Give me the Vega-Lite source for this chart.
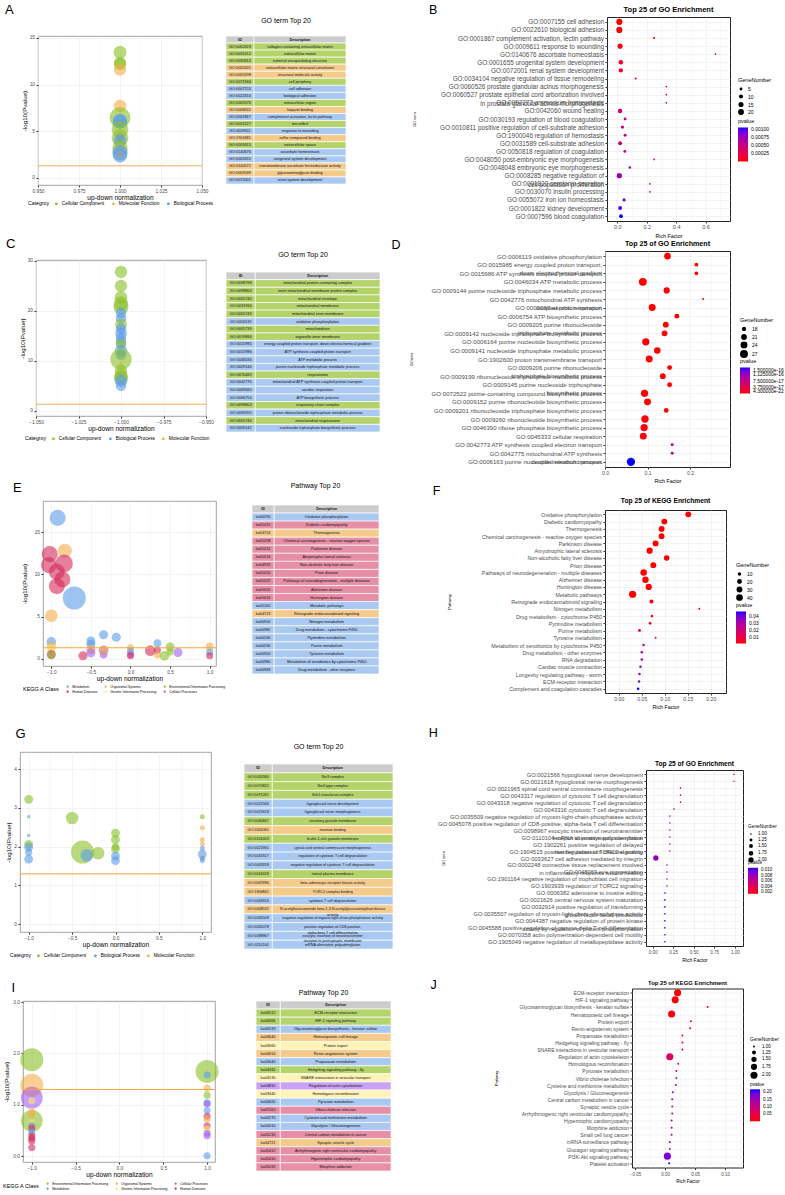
{
"$schema": "https://vega.github.io/schema/vega-lite/v6.json",
"padding": {"left": 2, "top": 2, "right": 0, "bottom": 0},
"background": "white",
"config": {
 "font": "Liberation Sans",
 "view": {"stroke": null},
 "axis": {"domain": false, "labelColor": "#4D4D4D", "tickColor": "#333333", "tickSize": 2, "labelPadding": 1.5, "gridColor": "#EBEBEB", "titleFontWeight": "normal", "titleColor": "#000000", "labelOverlap": false, "labelFlush": false, "labelLimit": 400},
 "legend": {"titleFontWeight": "normal", "titleColor": "#000000", "labelColor": "#000000", "labelOverlap": false, "labelLimit": 400},
 "title": {"fontWeight": "normal", "color": "#000000"}
},
"datasets": {
 "none": [],
 "hdr": [{"row": 0, "ID": "ID", "Description": "Description"}],
 "A_b": [
  {"x":1,"y":13.45,"cat":"Cellular Component","n":18},
  {"x":1,"y":12.3,"cat":"Cellular Component","n":16},
  {"x":1,"y":12.2,"cat":"Cellular Component","n":16},
  {"x":1,"y":11.6,"cat":"Molecular Function","n":16},
  {"x":1,"y":7.7,"cat":"Molecular Function","n":17},
  {"x":1,"y":6.45,"cat":"Cellular Component","n":45},
  {"x":1,"y":6.1,"cat":"Biological Process","n":22},
  {"x":1,"y":6.0,"cat":"Biological Process","n":22},
  {"x":1,"y":5.2,"cat":"Cellular Component","n":30},
  {"x":1,"y":4.4,"cat":"Molecular Function","n":9},
  {"x":1,"y":4.3,"cat":"Cellular Component","n":30},
  {"x":1,"y":4.2,"cat":"Biological Process","n":3},
  {"x":1,"y":4.0,"cat":"Cellular Component","n":4},
  {"x":1,"y":4.0,"cat":"Biological Process","n":17},
  {"x":1,"y":3.3,"cat":"Molecular Function","n":9},
  {"x":1,"y":3.2,"cat":"Cellular Component","n":25},
  {"x":1,"y":2.9,"cat":"Biological Process","n":2},
  {"x":1,"y":2.7,"cat":"Biological Process","n":25},
  {"x":1,"y":2.5,"cat":"Molecular Function","n":10},
  {"x":1,"y":2.45,"cat":"Molecular Function","n":2},
  {"x":1,"y":2.4,"cat":"Biological Process","n":22}
 ],
 "A_t": [
  {"row":1,"ID":"GO:0062023","Description":"collagen-containing extracellular matrix","cat":"Cellular Component"},
  {"row":2,"ID":"GO:0031012","Description":"extracellular matrix","cat":"Cellular Component"},
  {"row":3,"ID":"GO:0030312","Description":"external encapsulating structure","cat":"Cellular Component"},
  {"row":4,"ID":"GO:0005201","Description":"extracellular matrix structural constituent","cat":"Molecular Function"},
  {"row":5,"ID":"GO:0005198","Description":"structural molecule activity","cat":"Molecular Function"},
  {"row":6,"ID":"GO:0071944","Description":"cell periphery","cat":"Cellular Component"},
  {"row":7,"ID":"GO:0007155","Description":"cell adhesion","cat":"Biological Process"},
  {"row":8,"ID":"GO:0022610","Description":"biological adhesion","cat":"Biological Process"},
  {"row":9,"ID":"GO:0005576","Description":"extracellular region","cat":"Cellular Component"},
  {"row":10,"ID":"GO:0008201","Description":"heparin binding","cat":"Molecular Function"},
  {"row":11,"ID":"GO:0001867","Description":"complement activation, lectin pathway","cat":"Biological Process"},
  {"row":12,"ID":"GO:0001527","Description":"microfibril","cat":"Cellular Component"},
  {"row":13,"ID":"GO:0009611","Description":"response to wounding","cat":"Biological Process"},
  {"row":14,"ID":"GO:1901681","Description":"sulfur compound binding","cat":"Molecular Function"},
  {"row":15,"ID":"GO:0005615","Description":"extracellular space","cat":"Cellular Component"},
  {"row":16,"ID":"GO:0140676","Description":"ascorbate homeostasis","cat":"Biological Process"},
  {"row":17,"ID":"GO:0001655","Description":"urogenital system development","cat":"Biological Process"},
  {"row":18,"ID":"GO:0140571","Description":"transmembrane ascorbate ferrireductase activity","cat":"Molecular Function"},
  {"row":19,"ID":"GO:0005539","Description":"glycosaminoglycan binding","cat":"Molecular Function"},
  {"row":20,"ID":"GO:0072001","Description":"renal system development","cat":"Biological Process"}
 ],
 "C_b": [
  {"x":-1,"y":27.8,"cat":"Cellular Component","n":33},
  {"x":-1,"y":25.0,"cat":"Cellular Component","n":33},
  {"x":-1,"y":22.7,"cat":"Cellular Component","n":36},
  {"x":-1,"y":21.5,"cat":"Cellular Component","n":44},
  {"x":-1,"y":20.8,"cat":"Cellular Component","n":50},
  {"x":-1,"y":19.6,"cat":"Biological Process","n":24},
  {"x":-1,"y":18.5,"cat":"Biological Process","n":24},
  {"x":-1,"y":17.3,"cat":"Cellular Component","n":29},
  {"x":-1,"y":16.5,"cat":"Biological Process","n":24},
  {"x":-1,"y":15.5,"cat":"Biological Process","n":29},
  {"x":-1,"y":14.6,"cat":"Biological Process","n":24},
  {"x":-1,"y":13.7,"cat":"Biological Process","n":24},
  {"x":-1,"y":13.3,"cat":"Cellular Component","n":24},
  {"x":-1,"y":12.0,"cat":"Biological Process","n":33},
  {"x":-1,"y":11.2,"cat":"Biological Process","n":24},
  {"x":-1,"y":10.3,"cat":"Cellular Component","n":100},
  {"x":-1,"y":9.6,"cat":"Molecular Function","n":2},
  {"x":-1,"y":8.0,"cat":"Cellular Component","n":33},
  {"x":-1,"y":7.0,"cat":"Cellular Component","n":38},
  {"x":-1,"y":6.5,"cat":"Cellular Component","n":44},
  {"x":-1,"y":6.0,"cat":"Biological Process","n":33},
  {"x":-1,"y":5.0,"cat":"Biological Process","n":24}
 ],
 "C_t": [
  {"row":1,"ID":"GO:0098798","Description":"mitochondrial protein-containing complex","cat":"Cellular Component"},
  {"row":2,"ID":"GO:0098800","Description":"inner mitochondrial membrane protein complex","cat":"Cellular Component"},
  {"row":3,"ID":"GO:0005740","Description":"mitochondrial envelope","cat":"Cellular Component"},
  {"row":4,"ID":"GO:0031966","Description":"mitochondrial membrane","cat":"Cellular Component"},
  {"row":5,"ID":"GO:0005743","Description":"mitochondrial inner membrane","cat":"Cellular Component"},
  {"row":6,"ID":"GO:0006119","Description":"oxidative phosphorylation","cat":"Biological Process"},
  {"row":7,"ID":"GO:0005739","Description":"mitochondrion","cat":"Cellular Component"},
  {"row":8,"ID":"GO:0019866","Description":"organelle inner membrane","cat":"Cellular Component"},
  {"row":9,"ID":"GO:0015985","Description":"energy coupled proton transport, down electrochemical gradient","cat":"Biological Process"},
  {"row":10,"ID":"GO:0015986","Description":"ATP synthesis coupled proton transport","cat":"Biological Process"},
  {"row":11,"ID":"GO:0046034","Description":"ATP metabolic process","cat":"Biological Process"},
  {"row":12,"ID":"GO:0009144","Description":"purine nucleoside triphosphate metabolic process","cat":"Biological Process"},
  {"row":13,"ID":"GO:0070469","Description":"respirasome","cat":"Cellular Component"},
  {"row":14,"ID":"GO:0042776","Description":"mitochondrial ATP synthesis coupled proton transport","cat":"Biological Process"},
  {"row":15,"ID":"GO:0009060","Description":"aerobic respiration","cat":"Biological Process"},
  {"row":16,"ID":"GO:0006754","Description":"ATP biosynthetic process","cat":"Biological Process"},
  {"row":17,"ID":"GO:0098803","Description":"respiratory chain complex","cat":"Cellular Component"},
  {"row":18,"ID":"GO:0009205","Description":"purine ribonucleoside triphosphate metabolic process","cat":"Biological Process"},
  {"row":19,"ID":"GO:0005746","Description":"mitochondrial respirasome","cat":"Cellular Component"},
  {"row":20,"ID":"GO:0009142","Description":"nucleoside triphosphate biosynthetic process","cat":"Biological Process"}
 ],
 "E_b": [
  {"x":-0.92,"y":16.7,"cat":"Metabolism","n":20},
  {"x":-0.83,"y":12.8,"cat":"Organismal Systems","n":15},
  {"x":-1.02,"y":12.4,"cat":"Human Diseases","n":20},
  {"x":-1.03,"y":11.1,"cat":"Human Diseases","n":20},
  {"x":-0.84,"y":11.3,"cat":"Human Diseases","n":25},
  {"x":-0.93,"y":10.3,"cat":"Human Diseases","n":20},
  {"x":-0.86,"y":9.4,"cat":"Human Diseases","n":20},
  {"x":-0.93,"y":8.6,"cat":"Human Diseases","n":20},
  {"x":-0.71,"y":7.2,"cat":"Metabolism","n":45},
  {"x":-1.0,"y":5.1,"cat":"Organismal Systems","n":11},
  {"x":-1.0,"y":2.0,"cat":"Metabolism","n":5},
  {"x":-1.0,"y":1.5,"cat":"Organismal Systems","n":4},
  {"x":-1.0,"y":1.2,"cat":"Genetic Information Processing","n":4},
  {"x":-1.0,"y":0.5,"cat":"Human Diseases","n":4},
  {"x":-1.0,"y":0.4,"cat":"Environmental Information Processing","n":2},
  {"x":-0.5,"y":2.1,"cat":"Metabolism","n":4},
  {"x":-0.5,"y":1.7,"cat":"Metabolism","n":4},
  {"x":-0.5,"y":1.1,"cat":"Organismal Systems","n":4},
  {"x":-0.6,"y":0.35,"cat":"Human Diseases","n":4},
  {"x":-0.5,"y":0.7,"cat":"Cellular Processes","n":4},
  {"x":-0.34,"y":2.85,"cat":"Metabolism","n":4},
  {"x":-0.18,"y":2.55,"cat":"Metabolism","n":4},
  {"x":-0.34,"y":1.0,"cat":"Cellular Processes","n":5},
  {"x":-0.34,"y":0.5,"cat":"Cellular Processes","n":2},
  {"x":-0.34,"y":1.0,"cat":"Organismal Systems","n":4},
  {"x":0.0,"y":1.3,"cat":"Organismal Systems","n":1},
  {"x":0.0,"y":0.9,"cat":"Metabolism","n":1},
  {"x":0.0,"y":0.5,"cat":"Cellular Processes","n":1},
  {"x":0.0,"y":0.35,"cat":"Human Diseases","n":1},
  {"x":0.25,"y":0.95,"cat":"Human Diseases","n":7},
  {"x":0.34,"y":1.85,"cat":"Metabolism","n":2},
  {"x":0.34,"y":1.0,"cat":"Human Diseases","n":1},
  {"x":0.34,"y":0.45,"cat":"Organismal Systems","n":1},
  {"x":0.5,"y":1.4,"cat":"Environmental Information Processing","n":4},
  {"x":0.43,"y":0.35,"cat":"Environmental Information Processing","n":5},
  {"x":0.6,"y":0.75,"cat":"Cellular Processes","n":4},
  {"x":0.5,"y":0.8,"cat":"Environmental Information Processing","n":1},
  {"x":1.0,"y":1.45,"cat":"Organismal Systems","n":2},
  {"x":1.0,"y":0.8,"cat":"Metabolism","n":1},
  {"x":1.0,"y":0.35,"cat":"Human Diseases","n":1}
 ],
 "E_t": [
  {"row":1,"ID":"ko00190","Description":"Oxidative phosphorylation","cat":"Metabolism"},
  {"row":2,"ID":"ko05415","Description":"Diabetic cardiomyopathy","cat":"Human Diseases"},
  {"row":3,"ID":"ko04714","Description":"Thermogenesis","cat":"Organismal Systems"},
  {"row":4,"ID":"ko05208","Description":"Chemical carcinogenesis - reactive oxygen species","cat":"Human Diseases"},
  {"row":5,"ID":"ko05012","Description":"Parkinson disease","cat":"Human Diseases"},
  {"row":6,"ID":"ko05014","Description":"Amyotrophic lateral sclerosis","cat":"Human Diseases"},
  {"row":7,"ID":"ko04932","Description":"Non-alcoholic fatty liver disease","cat":"Human Diseases"},
  {"row":8,"ID":"ko05020","Description":"Prion disease","cat":"Human Diseases"},
  {"row":9,"ID":"ko05022","Description":"Pathways of neurodegeneration - multiple diseases","cat":"Human Diseases"},
  {"row":10,"ID":"ko05010","Description":"Alzheimer disease","cat":"Human Diseases"},
  {"row":11,"ID":"ko05016","Description":"Huntington disease","cat":"Human Diseases"},
  {"row":12,"ID":"ko01100","Description":"Metabolic pathways","cat":"Metabolism"},
  {"row":13,"ID":"ko04723","Description":"Retrograde endocannabinoid signaling","cat":"Organismal Systems"},
  {"row":14,"ID":"ko00910","Description":"Nitrogen metabolism","cat":"Metabolism"},
  {"row":15,"ID":"ko00982","Description":"Drug metabolism - cytochrome P450","cat":"Metabolism"},
  {"row":16,"ID":"ko00240","Description":"Pyrimidine metabolism","cat":"Metabolism"},
  {"row":17,"ID":"ko00230","Description":"Purine metabolism","cat":"Metabolism"},
  {"row":18,"ID":"ko00350","Description":"Tyrosine metabolism","cat":"Metabolism"},
  {"row":19,"ID":"ko00980","Description":"Metabolism of xenobiotics by cytochrome P450","cat":"Metabolism"},
  {"row":20,"ID":"ko00983","Description":"Drug metabolism - other enzymes","cat":"Metabolism"}
 ],
 "G_b": [
  {"x":-1,"y":3.22,"cat":"Cellular Component","n":6},
  {"x":-1,"y":2.77,"cat":"Biological Process","n":1},
  {"x":-1,"y":2.29,"cat":"Biological Process","n":1},
  {"x":-1,"y":2.06,"cat":"Cellular Component","n":6},
  {"x":-1,"y":1.99,"cat":"Biological Process","n":6},
  {"x":-1,"y":1.85,"cat":"Biological Process","n":4},
  {"x":-1,"y":1.68,"cat":"Biological Process","n":6},
  {"x":-0.5,"y":2.74,"cat":"Cellular Component","n":12},
  {"x":-0.38,"y":1.86,"cat":"Cellular Component","n":40},
  {"x":-0.33,"y":1.78,"cat":"Biological Process","n":12},
  {"x":-0.2,"y":1.83,"cat":"Cellular Component","n":12},
  {"x":0,"y":2.35,"cat":"Cellular Component","n":6},
  {"x":0,"y":2.18,"cat":"Cellular Component","n":6},
  {"x":0,"y":2.0,"cat":"Cellular Component","n":4},
  {"x":0,"y":1.94,"cat":"Cellular Component","n":6},
  {"x":0,"y":1.76,"cat":"Biological Process","n":6},
  {"x":0,"y":1.64,"cat":"Biological Process","n":6},
  {"x":1,"y":2.77,"cat":"Cellular Component","n":2},
  {"x":1,"y":2.49,"cat":"Molecular Function","n":2},
  {"x":1,"y":2.18,"cat":"Molecular Function","n":2},
  {"x":1,"y":2.06,"cat":"Molecular Function","n":2},
  {"x":1,"y":1.95,"cat":"Biological Process","n":2},
  {"x":1,"y":1.8,"cat":"Biological Process","n":6},
  {"x":1,"y":1.75,"cat":"Molecular Function","n":1},
  {"x":1,"y":1.7,"cat":"Biological Process","n":2},
  {"x":1,"y":1.64,"cat":"Biological Process","n":2}
 ],
 "G_t": [
  {"row":1,"ID":"GO:0016580","Description":"Sin3 complex","cat":"Cellular Component"},
  {"row":2,"ID":"GO:0070822","Description":"Sin3-type complex","cat":"Cellular Component"},
  {"row":3,"ID":"GO:0071261","Description":"Ssh1 translocon complex","cat":"Cellular Component"},
  {"row":4,"ID":"GO:0021566","Description":"hypoglossal nerve development","cat":"Biological Process"},
  {"row":5,"ID":"GO:0021618","Description":"hypoglossal nerve morphogenesis","cat":"Biological Process"},
  {"row":6,"ID":"GO:0030667","Description":"secretory granule membrane","cat":"Cellular Component"},
  {"row":7,"ID":"GO:2001065","Description":"mannan binding","cat":"Molecular Function"},
  {"row":8,"ID":"GO:0101003","Description":"ficolin-1-rich granule membrane","cat":"Cellular Component"},
  {"row":9,"ID":"GO:0021965","Description":"spinal cord ventral commissure morphogenesis","cat":"Biological Process"},
  {"row":10,"ID":"GO:0043317","Description":"regulation of cytotoxic T cell degranulation","cat":"Biological Process"},
  {"row":11,"ID":"GO:0043318","Description":"negative regulation of cytotoxic T cell degranulation","cat":"Biological Process"},
  {"row":12,"ID":"GO:0016328","Description":"lateral plasma membrane","cat":"Cellular Component"},
  {"row":13,"ID":"GO:0047696","Description":"beta-adrenergic receptor kinase activity","cat":"Molecular Function"},
  {"row":14,"ID":"GO:1904841","Description":"TORC2 complex binding","cat":"Molecular Function"},
  {"row":15,"ID":"GO:0043316","Description":"cytotoxic T cell degranulation","cat":"Biological Process"},
  {"row":16,"ID":"GO:0008532","Description":"N-acetyllactosaminide beta-1,3-N-acetylglucosaminyltransferase\nactivity","cat":"Molecular Function"},
  {"row":17,"ID":"GO:0035509","Description":"negative regulation of myosin-light-chain-phosphatase activity","cat":"Biological Process"},
  {"row":18,"ID":"GO:0045078","Description":"positive regulation of CD8-positive,\nalpha-beta T cell differentiation","cat":"Biological Process"},
  {"row":19,"ID":"GO:0098967","Description":"exocytic insertion of neurotransmitter\nreceptor to postsynaptic membrane","cat":"Biological Process"},
  {"row":20,"ID":"GO:0110104","Description":"mRNA alternative polyadenylation","cat":"Biological Process"}
 ],
 "I_b": [
  {"x":-1,"y":1.88,"cat":"Environmental Information Processing","n":45},
  {"x":-1,"y":1.38,"cat":"Organismal Systems","n":45},
  {"x":-1,"y":1.14,"cat":"Cellular Processes","n":40},
  {"x":-1,"y":0.69,"cat":"Environmental Information Processing","n":40},
  {"x":-1,"y":1.08,"cat":"Genetic Information Processing","n":1},
  {"x":-1,"y":0.86,"cat":"Organismal Systems","n":1},
  {"x":-1,"y":0.8,"cat":"Organismal Systems","n":1},
  {"x":-1,"y":0.65,"cat":"Genetic Information Processing","n":1},
  {"x":-1,"y":0.6,"cat":"Metabolism","n":1},
  {"x":-1,"y":0.55,"cat":"Human Diseases","n":1},
  {"x":-1,"y":0.47,"cat":"Metabolism","n":1},
  {"x":-1,"y":0.4,"cat":"Human Diseases","n":1},
  {"x":-1,"y":0.35,"cat":"Human Diseases","n":1},
  {"x":-1,"y":0.3,"cat":"Human Diseases","n":1},
  {"x":-1,"y":0.17,"cat":"Human Diseases","n":1},
  {"x":1,"y":1.65,"cat":"Environmental Information Processing","n":45},
  {"x":1,"y":1.58,"cat":"Metabolism","n":1},
  {"x":1,"y":1.33,"cat":"Organismal Systems","n":1},
  {"x":1,"y":1.19,"cat":"Environmental Information Processing","n":1},
  {"x":1,"y":1.04,"cat":"Metabolism","n":1},
  {"x":1,"y":1.02,"cat":"Cellular Processes","n":1},
  {"x":1,"y":0.89,"cat":"Metabolism","n":1},
  {"x":1,"y":0.78,"cat":"Human Diseases","n":1},
  {"x":1,"y":0.72,"cat":"Organismal Systems","n":1},
  {"x":1,"y":0.59,"cat":"Human Diseases","n":1},
  {"x":1,"y":0.53,"cat":"Genetic Information Processing","n":1},
  {"x":1,"y":0.45,"cat":"Cellular Processes","n":1},
  {"x":1,"y":0.4,"cat":"Cellular Processes","n":1},
  {"x":1,"y":0.01,"cat":"Metabolism","n":1}
 ],
 "I_t": [
  {"row":1,"ID":"ko04512","Description":"ECM-receptor interaction","cat":"Environmental Information Processing"},
  {"row":2,"ID":"ko04066","Description":"HIF-1 signaling pathway","cat":"Environmental Information Processing"},
  {"row":3,"ID":"ko00533","Description":"Glycosaminoglycan biosynthesis - keratan sulfate","cat":"Metabolism"},
  {"row":4,"ID":"ko04640","Description":"Hematopoietic cell lineage","cat":"Organismal Systems"},
  {"row":5,"ID":"ko03060","Description":"Protein export","cat":"Genetic Information Processing"},
  {"row":6,"ID":"ko04614","Description":"Renin-angiotensin system","cat":"Organismal Systems"},
  {"row":7,"ID":"ko00640","Description":"Propanoate metabolism","cat":"Metabolism"},
  {"row":8,"ID":"ko04341","Description":"Hedgehog signaling pathway - fly","cat":"Environmental Information Processing"},
  {"row":9,"ID":"ko04130","Description":"SNARE interactions in vesicular transport","cat":"Genetic Information Processing"},
  {"row":10,"ID":"ko04810","Description":"Regulation of actin cytoskeleton","cat":"Cellular Processes"},
  {"row":11,"ID":"ko03440","Description":"Homologous recombination","cat":"Genetic Information Processing"},
  {"row":12,"ID":"ko00620","Description":"Pyruvate metabolism","cat":"Metabolism"},
  {"row":13,"ID":"ko05110","Description":"Vibrio cholerae infection","cat":"Human Diseases"},
  {"row":14,"ID":"ko00270","Description":"Cysteine and methionine metabolism","cat":"Metabolism"},
  {"row":15,"ID":"ko00010","Description":"Glycolysis / Gluconeogenesis","cat":"Metabolism"},
  {"row":16,"ID":"ko05230","Description":"Central carbon metabolism in cancer","cat":"Human Diseases"},
  {"row":17,"ID":"ko04721","Description":"Synaptic vesicle cycle","cat":"Organismal Systems"},
  {"row":18,"ID":"ko05412","Description":"Arrhythmogenic right ventricular cardiomyopathy","cat":"Human Diseases"},
  {"row":19,"ID":"ko05410","Description":"Hypertrophic cardiomyopathy","cat":"Human Diseases"},
  {"row":20,"ID":"ko05032","Description":"Morphine addiction","cat":"Human Diseases"}
 ],
 "B": [
  {"rank":1,"term":"GO:0007155 cell adhesion","rf":0.014,"n":22,"p":3.7e-7},
  {"rank":2,"term":"GO:0022610 biological adhesion","rf":0.014,"n":22,"p":3.7e-7},
  {"rank":3,"term":"GO:0001867 complement activation, lectin pathway","rf":0.25,"n":3,"p":2.0e-5},
  {"rank":4,"term":"GO:0009611 response to wounding","rf":0.019,"n":15,"p":5.0e-5},
  {"rank":5,"term":"GO:0140676 ascorbate homeostasis","rf":0.667,"n":2,"p":7.0e-5},
  {"rank":6,"term":"GO:0001655 urogenital system development","rf":0.024,"n":12,"p":1.1e-4},
  {"rank":7,"term":"GO:0072001 renal system development","rf":0.024,"n":11,"p":1.3e-4},
  {"rank":8,"term":"GO:0034104 negative regulation of tissue remodeling","rf":0.125,"n":3,"p":2.9e-4},
  {"rank":9,"term":"GO:0060526 prostate glandular acinus morphogenesis","rf":0.333,"n":2,"p":3.1e-4},
  {"rank":10,"term":"GO:0060527 prostate epithelial cord arborization involved\nin prostate glandular acinus morphogenesis","rf":0.333,"n":2,"p":3.1e-4},
  {"rank":11,"term":"GO:0097272 ammonium homeostasis","rf":0.333,"n":2,"p":3.1e-4},
  {"rank":12,"term":"GO:0042060 wound healing","rf":0.019,"n":12,"p":3.5e-4},
  {"rank":13,"term":"GO:0030193 regulation of blood coagulation","rf":0.053,"n":5,"p":4.5e-4},
  {"rank":14,"term":"GO:0010811 positive regulation of cell-substrate adhesion","rf":0.035,"n":6,"p":4.6e-4},
  {"rank":15,"term":"GO:1900046 regulation of hemostasis","rf":0.053,"n":5,"p":4.8e-4},
  {"rank":16,"term":"GO:0031589 cell-substrate adhesion","rf":0.019,"n":9,"p":5.0e-4},
  {"rank":17,"term":"GO:0050818 regulation of coagulation","rf":0.051,"n":5,"p":5.2e-4},
  {"rank":18,"term":"GO:0048050 post-embryonic eye morphogenesis","rf":0.25,"n":2,"p":6.0e-4},
  {"rank":19,"term":"GO:0048048 embryonic eye morphogenesis","rf":0.085,"n":4,"p":6.6e-4},
  {"rank":20,"term":"GO:0008285 negative regulation of\ncell population proliferation","rf":0.014,"n":16,"p":7.2e-4},
  {"rank":21,"term":"GO:0001820 serotonin secretion","rf":0.222,"n":2,"p":7.9e-4},
  {"rank":22,"term":"GO:0030070 insulin processing","rf":0.222,"n":2,"p":7.9e-4},
  {"rank":23,"term":"GO:0055072 iron ion homeostasis","rf":0.046,"n":6,"p":9.2e-4},
  {"rank":24,"term":"GO:0001822 kidney development","rf":0.019,"n":9,"p":9.9e-4},
  {"rank":25,"term":"GO:0007596 blood coagulation","rf":0.025,"n":8,"p":1.06e-3}
 ],
 "D": [
  {"rank":1,"term":"GO:0006119 oxidative phosphorylation","rf":0.147,"n":23,"p":4.3e-22},
  {"rank":2,"term":"GO:0015985 energy coupled proton transport,\ndown electrochemical gradient","rf":0.215,"n":17,"p":1e-21},
  {"rank":3,"term":"GO:0015986 ATP synthesis coupled proton transport","rf":0.215,"n":17,"p":1e-21},
  {"rank":4,"term":"GO:0046034 ATP metabolic process","rf":0.089,"n":27,"p":2e-21},
  {"rank":5,"term":"GO:0009144 purine nucleoside triphosphate metabolic process","rf":0.145,"n":22,"p":5e-21},
  {"rank":6,"term":"GO:0042776 mitochondrial ATP synthesis\ncoupled proton transport","rf":0.231,"n":15,"p":1e-20},
  {"rank":7,"term":"GO:0009060 aerobic respiration","rf":0.111,"n":24,"p":2e-20},
  {"rank":8,"term":"GO:0006754 ATP biosynthetic process","rf":0.169,"n":19,"p":3e-20},
  {"rank":9,"term":"GO:0009205 purine ribonucleoside\ntriphosphate metabolic process","rf":0.143,"n":21,"p":5e-20},
  {"rank":10,"term":"GO:0009142 nucleoside triphosphate biosynthetic process","rf":0.14,"n":21,"p":6e-20},
  {"rank":11,"term":"GO:0006164 purine nucleotide biosynthetic process","rf":0.096,"n":25,"p":8e-20},
  {"rank":12,"term":"GO:0009141 nucleoside triphosphate metabolic process","rf":0.123,"n":23,"p":1e-19},
  {"rank":13,"term":"GO:1902600 proton transmembrane transport","rf":0.104,"n":24,"p":2e-19},
  {"rank":14,"term":"GO:0009206 purine ribonucleoside\ntriphosphate biosynthetic process","rf":0.152,"n":19,"p":3e-19},
  {"rank":15,"term":"GO:0009199 ribonucleoside triphosphate metabolic process","rf":0.136,"n":21,"p":4e-19},
  {"rank":16,"term":"GO:0009145 purine nucleoside triphosphate\nbiosynthetic process","rf":0.152,"n":19,"p":5e-19},
  {"rank":17,"term":"GO:0072522 purine-containing compound biosynthetic process","rf":0.093,"n":25,"p":8e-19},
  {"rank":18,"term":"GO:0009152 purine ribonucleotide biosynthetic process","rf":0.1,"n":24,"p":1e-18},
  {"rank":19,"term":"GO:0009201 ribonucleoside triphosphate biosynthetic process","rf":0.144,"n":19,"p":1.5e-18},
  {"rank":20,"term":"GO:0009260 ribonucleotide biosynthetic process","rf":0.094,"n":25,"p":2e-18},
  {"rank":21,"term":"GO:0046390 ribose phosphate biosynthetic process","rf":0.092,"n":25,"p":3e-18},
  {"rank":22,"term":"GO:0045333 cellular respiration","rf":0.09,"n":24,"p":5e-18},
  {"rank":23,"term":"GO:0042773 ATP synthesis coupled electron transport","rf":0.158,"n":16,"p":7e-17},
  {"rank":24,"term":"GO:0042775 mitochondrial ATP synthesis\ncoupled electron transport","rf":0.158,"n":16,"p":7e-17},
  {"rank":25,"term":"GO:0006163 purine nucleotide metabolic process","rf":0.061,"n":28,"p":1.5e-16}
 ],
 "F": [
  {"rank":1,"term":"Oxidative phosphorylation","rf":0.151,"n":30,"p":1e-17},
  {"rank":2,"term":"Diabetic cardiomyopathy","rf":0.099,"n":30,"p":1e-15},
  {"rank":3,"term":"Thermogenesis","rf":0.093,"n":30,"p":5e-15},
  {"rank":4,"term":"Chemical carcinogenesis - reactive oxygen species","rf":0.093,"n":30,"p":6e-15},
  {"rank":5,"term":"Parkinson disease","rf":0.08,"n":31,"p":5e-14},
  {"rank":6,"term":"Amyotrophic lateral sclerosis","rf":0.067,"n":34,"p":1e-13},
  {"rank":7,"term":"Non-alcoholic fatty liver disease","rf":0.104,"n":27,"p":2e-13},
  {"rank":8,"term":"Prion disease","rf":0.075,"n":30,"p":4e-13},
  {"rank":9,"term":"Pathways of neurodegeneration - multiple diseases","rf":0.054,"n":37,"p":1e-12},
  {"rank":10,"term":"Alzheimer disease","rf":0.058,"n":36,"p":1e-12},
  {"rank":11,"term":"Huntington disease","rf":0.065,"n":34,"p":3e-12},
  {"rank":12,"term":"Metabolic pathways","rf":0.03,"n":46,"p":2e-9},
  {"rank":13,"term":"Retrograde endocannabinoid signaling","rf":0.071,"n":14,"p":1e-5},
  {"rank":14,"term":"Nitrogen metabolism","rf":0.175,"n":3,"p":0.0012},
  {"rank":15,"term":"Drug metabolism - cytochrome P450","rf":0.072,"n":6,"p":0.0025},
  {"rank":16,"term":"Pyrimidine metabolism","rf":0.068,"n":6,"p":0.004},
  {"rank":17,"term":"Purine metabolism","rf":0.045,"n":7,"p":0.008},
  {"rank":18,"term":"Tyrosine metabolism","rf":0.08,"n":3,"p":0.011},
  {"rank":19,"term":"Metabolism of xenobiotics by cytochrome P450","rf":0.054,"n":5,"p":0.018},
  {"rank":20,"term":"Drug metabolism - other enzymes","rf":0.05,"n":5,"p":0.024},
  {"rank":21,"term":"RNA degradation","rf":0.05,"n":5,"p":0.026},
  {"rank":22,"term":"Cardiac muscle contraction","rf":0.047,"n":5,"p":0.03},
  {"rank":23,"term":"Longevity regulating pathway - worm","rf":0.045,"n":5,"p":0.033},
  {"rank":24,"term":"ECM-receptor interaction","rf":0.044,"n":5,"p":0.037},
  {"rank":25,"term":"Complement and coagulation cascades","rf":0.042,"n":5,"p":0.046}
 ],
 "H": [
  {"rank":1,"term":"GO:0021566 hypoglossal nerve development","rf":0.99,"n":1,"p":0.0015},
  {"rank":2,"term":"GO:0021618 hypoglossal nerve morphogenesis","rf":0.99,"n":1,"p":0.0015},
  {"rank":3,"term":"GO:0021965 spinal cord ventral commissure morphogenesis","rf":0.34,"n":1,"p":0.0045},
  {"rank":4,"term":"GO:0043317 regulation of cytotoxic T cell degranulation","rf":0.34,"n":1,"p":0.0045},
  {"rank":5,"term":"GO:0043318 negative regulation of cytotoxic T cell degranulation","rf":0.34,"n":1,"p":0.0045},
  {"rank":6,"term":"GO:0043316 cytotoxic T cell degranulation","rf":0.26,"n":1,"p":0.0058},
  {"rank":7,"term":"GO:0035509 negative regulation of myosin-light-chain-phosphatase activity","rf":0.21,"n":1,"p":0.0072},
  {"rank":8,"term":"GO:0045078 positive regulation of CD8-positive, alpha-beta T cell differentiation","rf":0.21,"n":1,"p":0.0072},
  {"rank":9,"term":"GO:0098967 exocytic insertion of neurotransmitter\nreceptor to postsynaptic membrane","rf":0.21,"n":1,"p":0.0072},
  {"rank":10,"term":"GO:0110104 mRNA alternative polyadenylation","rf":0.21,"n":1,"p":0.0072},
  {"rank":11,"term":"GO:1902261 positive regulation of delayed\nrectifier potassium channel activity","rf":0.21,"n":1,"p":0.0072},
  {"rank":12,"term":"GO:1904515 positive regulation of TORC2 signaling","rf":0.21,"n":1,"p":0.0072},
  {"rank":13,"term":"GO:0033627 cell adhesion mediated by integrin","rf":0.04,"n":2,"p":0.0085},
  {"rank":14,"term":"GO:0002248 connective tissue replacement involved\nin inflammatory response wound healing","rf":0.175,"n":1,"p":0.0088},
  {"rank":15,"term":"GO:0048069 eye pigmentation","rf":0.175,"n":1,"p":0.0088},
  {"rank":16,"term":"GO:1901164 negative regulation of trophoblast cell migration","rf":0.175,"n":1,"p":0.0088},
  {"rank":17,"term":"GO:1903939 regulation of TORC2 signaling","rf":0.175,"n":1,"p":0.0088},
  {"rank":18,"term":"GO:0006382 adenosine to inosine editing","rf":0.15,"n":1,"p":0.0108},
  {"rank":19,"term":"GO:0021626 central nervous system maturation","rf":0.15,"n":1,"p":0.0108},
  {"rank":20,"term":"GO:0032914 positive regulation of transforming\ngrowth factor beta1 production","rf":0.15,"n":1,"p":0.0108},
  {"rank":21,"term":"GO:0035507 regulation of myosin-light-chain-phosphatase activity","rf":0.15,"n":1,"p":0.0108},
  {"rank":22,"term":"GO:0044387 negative regulation of protein kinase\nactivity by regulation of protein phosphorylation","rf":0.15,"n":1,"p":0.0108},
  {"rank":23,"term":"GO:0045588 positive regulation of gamma-delta T cell differentiation","rf":0.15,"n":1,"p":0.0108},
  {"rank":24,"term":"GO:0070358 actin polymerization-dependent cell motility","rf":0.15,"n":1,"p":0.0108},
  {"rank":25,"term":"GO:1905049 negative regulation of metallopeptidase activity","rf":0.15,"n":1,"p":0.0108}
 ],
 "J": [
  {"rank":1,"term":"ECM-receptor interaction","rf":0.021,"n":2,"p":0.004},
  {"rank":2,"term":"HIF-1 signaling pathway","rf":0.017,"n":2,"p":0.006},
  {"rank":3,"term":"Glycosaminoglycan biosynthesis - keratan sulfate","rf":0.071,"n":1,"p":0.015},
  {"rank":4,"term":"Hematopoietic cell lineage","rf":0.011,"n":2,"p":0.012},
  {"rank":5,"term":"Protein export","rf":0.043,"n":1,"p":0.045},
  {"rank":6,"term":"Renin-angiotensin system","rf":0.042,"n":1,"p":0.046},
  {"rank":7,"term":"Propanoate metabolism","rf":0.029,"n":1,"p":0.065},
  {"rank":8,"term":"Hedgehog signaling pathway - fly","rf":0.029,"n":1,"p":0.065},
  {"rank":9,"term":"SNARE interactions in vesicular transport","rf":0.029,"n":1,"p":0.065},
  {"rank":10,"term":"Regulation of actin cytoskeleton","rf":0.008,"n":2,"p":0.07},
  {"rank":11,"term":"Homologous recombination","rf":0.022,"n":1,"p":0.085},
  {"rank":12,"term":"Pyruvate metabolism","rf":0.019,"n":1,"p":0.095},
  {"rank":13,"term":"Vibrio cholerae infection","rf":0.019,"n":1,"p":0.095},
  {"rank":14,"term":"Cysteine and methionine metabolism","rf":0.018,"n":1,"p":0.1},
  {"rank":15,"term":"Glycolysis / Gluconeogenesis","rf":0.013,"n":1,"p":0.12},
  {"rank":16,"term":"Central carbon metabolism in cancer","rf":0.012,"n":1,"p":0.125},
  {"rank":17,"term":"Synaptic vesicle cycle","rf":0.012,"n":1,"p":0.125},
  {"rank":18,"term":"Arrhythmogenic right ventricular cardiomyopathy","rf":0.012,"n":1,"p":0.125},
  {"rank":19,"term":"Hypertrophic cardiomyopathy","rf":0.011,"n":1,"p":0.135},
  {"rank":20,"term":"Morphine addiction","rf":0.011,"n":1,"p":0.135},
  {"rank":21,"term":"Small cell lung cancer","rf":0.011,"n":1,"p":0.135},
  {"rank":22,"term":"mRNA surveillance pathway","rf":0.008,"n":1,"p":0.155},
  {"rank":23,"term":"Glucagon signaling pathway","rf":0.008,"n":1,"p":0.155},
  {"rank":24,"term":"PI3K-Akt signaling pathway","rf":0.004,"n":2,"p":0.18},
  {"rank":25,"term":"Platelet activation","rf":0.007,"n":1,"p":0.22}
 ]
},
"hconcat": [
 {
  "vconcat": [
   {"width": 1, "height": 1, "data": {"name": "none"}, "mark": {"type": "point", "opacity": 0}, "encoding": {}},
   {
    "vconcat": [
     {
      "vconcat": [
       {
        "vconcat": [
         {
          "title": {"text": "A", "anchor": "start", "fontSize": 13, "dx": -13, "offset": 0},
          "bounds": "flush", "spacing": 0,
          "hconcat": [
           {"width": 20, "height": 1, "data": {"name": "none"}, "mark": {"type": "point", "opacity": 0}, "encoding": {}},
           {
            "width": 164, "height": 149,
            "view": {"stroke": "#8A8A8A", "strokeWidth": 0.8},
            "layer": [
             {"data": {"name": "A_b"}, "mark": {"type": "circle", "opacity": 0.62},
              "encoding": {
               "x": {"field": "x", "type": "quantitative", "scale": {"domain": [0.95, 1.05], "nice": false, "zero": false},
                     "axis": {"title": "up-down normalization", "values": [0.95,0.9625,0.975,0.9875,1,1.0125,1.025,1.0375,1.05], "format": ".3f", "labelExpr": "indexof([0.95,0.975,1,1.025,1.05], datum.value) >= 0 ? datum.label : ''", "tickOpacity": {"condition": {"test": "indexof([0.95,0.975,1,1.025,1.05], datum.value) < 0", "value": 0}, "value": 1}, "gridWidth": {"condition": {"test": "indexof([0.95,0.975,1,1.025,1.05], datum.value) < 0", "value": 0.3}, "value": 0.6}, "labelFontSize": 4.8, "titleFontSize": 6.6, "titlePadding": 1}},
               "y": {"field": "y", "type": "quantitative", "scale": {"domain": [-0.76, 15.2], "nice": false, "zero": false},
                     "axis": {"title": "-log10(Pvalue)", "values": [0,2.5,5,7.5,10,12.5,15], "labelExpr": "indexof([0,5,10,15], datum.value) >= 0 ? datum.label : ''", "tickOpacity": {"condition": {"test": "indexof([0,5,10,15], datum.value) < 0", "value": 0}, "value": 1}, "gridWidth": {"condition": {"test": "indexof([0,5,10,15], datum.value) < 0", "value": 0.3}, "value": 0.6}, "labelFontSize": 4.8, "titleFontSize": 6.2, "titlePadding": 2}},
               "color": {"field": "cat", "type": "nominal", "scale": {"domain": ["Cellular Component", "Molecular Function", "Biological Process"], "range": ["#8BC02A", "#F3AE4A", "#5A9BEA"]},
                         "legend": {"title": "Categroy", "orient": "none", "legendX": -10, "legendY": 165, "direction": "horizontal", "titleOrient": "left", "symbolType": "circle", "symbolSize": 8, "symbolOpacity": 1, "symbolStrokeWidth": 0, "labelFontSize": 4.8, "titleFontSize": 5.2, "columnPadding": 6, "titlePadding": 4, "labelOffset": 3}},
               "size": {"field": "n", "type": "quantitative", "scale": {"domain": [2, 45], "range": [14, 430], "zero": false}, "legend": null}
              }},
             {"data": {"values": [{"cutoff": 1.3}]}, "mark": {"type": "rule", "color": "#F5A742", "strokeWidth": 0.9}, "encoding": {"y": {"field": "cutoff", "type": "quantitative"}}}
            ]
           },
           {"width": 24, "height": 1, "data": {"name": "none"}, "mark": {"type": "point", "opacity": 0}, "encoding": {}},
           {
            "width": 120, "height": 148,
            "title": {"text": "GO term Top 20", "fontSize": 7, "offset": 12, "anchor": "middle"},
            "encoding": {"y": {"field": "row", "type": "ordinal", "axis": null, "scale": {"domain": [0,1,2,3,4,5,6,7,8,9,10,11,12,13,14,15,16,17,18,19,20], "paddingInner": 0, "paddingOuter": 0}}},
            "layer": [
             {"data": {"name": "hdr"}, "mark": {"type": "rect", "fill": "#CCCCCC", "stroke": "white", "strokeWidth": 0.7}, "encoding": {"x": {"datum": 0, "type": "quantitative", "scale": {"domain": [0, 1], "nice": false}, "axis": null}, "x2": {"datum": 0.233}}},
             {"data": {"name": "hdr"}, "mark": {"type": "rect", "fill": "#CCCCCC", "stroke": "white", "strokeWidth": 0.7}, "encoding": {"x": {"datum": 0.233, "type": "quantitative", "axis": null}, "x2": {"datum": 1}}},
             {"data": {"name": "A_t"}, "mark": {"type": "rect", "stroke": "white", "strokeWidth": 0.7}, "encoding": {"x": {"datum": 0, "type": "quantitative", "axis": null}, "x2": {"datum": 0.233}, "fill": {"field": "cat", "type": "nominal", "scale": {"domain": ["Cellular Component", "Molecular Function", "Biological Process"], "range": ["#B5D36B", "#F5CB8C", "#A9C8F2"]}, "legend": null}}},
             {"data": {"name": "A_t"}, "mark": {"type": "rect", "stroke": "white", "strokeWidth": 0.7}, "encoding": {"x": {"datum": 0.233, "type": "quantitative", "axis": null}, "x2": {"datum": 1}, "fill": {"field": "cat", "type": "nominal", "legend": null}}},
             {"data": {"name": "hdr"}, "mark": {"type": "text", "fontSize": 3.8, "fontWeight": "bold", "color": "#111111"}, "encoding": {"x": {"datum": 0.1165, "type": "quantitative", "axis": null}, "text": {"field": "ID"}}},
             {"data": {"name": "hdr"}, "mark": {"type": "text", "fontSize": 3.8, "fontWeight": "bold", "color": "#111111"}, "encoding": {"x": {"datum": 0.6165, "type": "quantitative", "axis": null}, "text": {"field": "Description"}}},
             {"data": {"name": "A_t"}, "mark": {"type": "text", "fontSize": 3.8, "color": "#111111"}, "encoding": {"x": {"datum": 0.1165, "type": "quantitative", "axis": null}, "text": {"field": "ID"}}},
             {"data": {"name": "A_t"}, "mark": {"type": "text", "fontSize": 3.8, "color": "#111111", "lineBreak": "\n"}, "encoding": {"x": {"datum": 0.6165, "type": "quantitative", "axis": null}, "text": {"field": "Description"}}}
            ]
           }
          ],
          "resolve": {"scale": {"color": "independent", "fill": "independent", "size": "independent"}}
         },
         {
          "title": {"text": "C", "anchor": "start", "fontSize": 13, "dx": -12, "offset": 0},
          "bounds": "flush", "spacing": 0,
          "hconcat": [
           {"width": 18, "height": 1, "data": {"name": "none"}, "mark": {"type": "point", "opacity": 0}, "encoding": {}},
           {
            "width": 170, "height": 156,
            "view": {"stroke": "#8A8A8A", "strokeWidth": 0.8},
            "layer": [
             {"data": {"name": "C_b"}, "mark": {"type": "circle", "opacity": 0.62},
              "encoding": {
               "x": {"field": "x", "type": "quantitative", "scale": {"domain": [-1.05, -0.95], "nice": false, "zero": false},
                     "axis": {"title": "up-down normalization", "values": [-1.05,-1.0375,-1.025,-1.0125,-1,-0.9875,-0.975,-0.9625,-0.95], "format": ".3f", "labelExpr": "indexof([-1.05,-1.025,-1,-0.975,-0.95], datum.value) >= 0 ? datum.label : ''", "tickOpacity": {"condition": {"test": "indexof([-1.05,-1.025,-1,-0.975,-0.95], datum.value) < 0", "value": 0}, "value": 1}, "gridWidth": {"condition": {"test": "indexof([-1.05,-1.025,-1,-0.975,-0.95], datum.value) < 0", "value": 0.3}, "value": 0.6}, "labelFontSize": 4.8, "titleFontSize": 6.6, "titlePadding": 1}},
               "y": {"field": "y", "type": "quantitative", "scale": {"domain": [-1.06, 30.2], "nice": false, "zero": false},
                     "axis": {"title": "-log10(Pvalue)", "values": [0,5,10,15,20,25,30], "labelExpr": "indexof([0,10,20,30], datum.value) >= 0 ? datum.label : ''", "tickOpacity": {"condition": {"test": "indexof([0,10,20,30], datum.value) < 0", "value": 0}, "value": 1}, "gridWidth": {"condition": {"test": "indexof([0,10,20,30], datum.value) < 0", "value": 0.3}, "value": 0.6}, "labelFontSize": 4.8, "titleFontSize": 6.2, "titlePadding": 2}},
               "color": {"field": "cat", "type": "nominal", "scale": {"domain": ["Cellular Component", "Biological Process", "Molecular Function"], "range": ["#8BC02A", "#5A9BEA", "#F3AE4A"]},
                         "legend": {"title": "Categroy", "orient": "none", "legendX": -11, "legendY": 176, "direction": "horizontal", "titleOrient": "left", "symbolType": "circle", "symbolSize": 8, "symbolOpacity": 1, "symbolStrokeWidth": 0, "labelFontSize": 4.8, "titleFontSize": 5.2, "columnPadding": 6, "titlePadding": 4, "labelOffset": 3}},
               "size": {"field": "n", "type": "quantitative", "scale": {"domain": [2, 100], "range": [13, 452], "zero": false}, "legend": null}
              }},
             {"data": {"values": [{"cutoff": 1.3}]}, "mark": {"type": "rule", "color": "#F5A742", "strokeWidth": 0.9}, "encoding": {"y": {"field": "cutoff", "type": "quantitative"}}}
            ]
           },
           {"width": 20, "height": 1, "data": {"name": "none"}, "mark": {"type": "point", "opacity": 0}, "encoding": {}},
           {
            "width": 154, "height": 172,
            "title": {"text": "GO term Top 20", "fontSize": 7, "offset": 2, "anchor": "middle"},
            "encoding": {"y": {"field": "row", "type": "ordinal", "axis": null, "scale": {"domain": [0,1,2,3,4,5,6,7,8,9,10,11,12,13,14,15,16,17,18,19,20], "paddingInner": 0, "paddingOuter": 0.79, "align": 1}}},
            "layer": [
             {"data": {"name": "hdr"}, "mark": {"type": "rect", "fill": "#CCCCCC", "stroke": "white", "strokeWidth": 0.7}, "encoding": {"x": {"datum": 0, "type": "quantitative", "scale": {"domain": [0, 1], "nice": false}, "axis": null}, "x2": {"datum": 0.19}}},
             {"data": {"name": "hdr"}, "mark": {"type": "rect", "fill": "#CCCCCC", "stroke": "white", "strokeWidth": 0.7}, "encoding": {"x": {"datum": 0.19, "type": "quantitative", "axis": null}, "x2": {"datum": 1}}},
             {"data": {"name": "C_t"}, "mark": {"type": "rect", "stroke": "white", "strokeWidth": 0.7}, "encoding": {"x": {"datum": 0, "type": "quantitative", "axis": null}, "x2": {"datum": 0.19}, "fill": {"field": "cat", "type": "nominal", "scale": {"domain": ["Cellular Component", "Molecular Function", "Biological Process"], "range": ["#B5D36B", "#F5CB8C", "#A9C8F2"]}, "legend": null}}},
             {"data": {"name": "C_t"}, "mark": {"type": "rect", "stroke": "white", "strokeWidth": 0.7}, "encoding": {"x": {"datum": 0.19, "type": "quantitative", "axis": null}, "x2": {"datum": 1}, "fill": {"field": "cat", "type": "nominal", "legend": null}}},
             {"data": {"name": "hdr"}, "mark": {"type": "text", "fontSize": 3.8, "fontWeight": "bold", "color": "#111111"}, "encoding": {"x": {"datum": 0.095, "type": "quantitative", "axis": null}, "text": {"field": "ID"}}},
             {"data": {"name": "hdr"}, "mark": {"type": "text", "fontSize": 3.8, "fontWeight": "bold", "color": "#111111"}, "encoding": {"x": {"datum": 0.595, "type": "quantitative", "axis": null}, "text": {"field": "Description"}}},
             {"data": {"name": "C_t"}, "mark": {"type": "text", "fontSize": 3.8, "color": "#111111"}, "encoding": {"x": {"datum": 0.095, "type": "quantitative", "axis": null}, "text": {"field": "ID"}}},
             {"data": {"name": "C_t"}, "mark": {"type": "text", "fontSize": 3.8, "color": "#111111", "lineBreak": "\n"}, "encoding": {"x": {"datum": 0.595, "type": "quantitative", "axis": null}, "text": {"field": "Description"}}}
            ]
           }
          ],
          "resolve": {"scale": {"color": "independent", "fill": "independent", "size": "independent"}}
         }
        ],
        "spacing": 30,
        "resolve": {"scale": {"color": "independent", "fill": "independent", "size": "independent"}}
       },
       {
        "title": {"text": "E", "anchor": "start", "fontSize": 13, "dx": -5, "dy": 13, "offset": 0},
        "bounds": "flush", "spacing": 0,
        "hconcat": [
         {"width": 25, "height": 1, "data": {"name": "none"}, "mark": {"type": "point", "opacity": 0}, "encoding": {}},
         {
          "width": 173, "height": 165,
          "view": {"stroke": "#8A8A8A", "strokeWidth": 0.8},
          "layer": [
           {"data": {"name": "E_b"}, "mark": {"type": "circle", "opacity": 0.6},
            "encoding": {
             "x": {"field": "x", "type": "quantitative", "scale": {"domain": [-1.105, 1.08], "nice": false, "zero": false},
                   "axis": {"title": "up-down normalization", "values": [-1,-0.75,-0.5,-0.25,0,0.25,0.5,0.75,1], "format": ".1f", "labelExpr": "indexof([-1,-0.5,0,0.5,1], datum.value) >= 0 ? datum.label : ''", "tickOpacity": {"condition": {"test": "indexof([-1,-0.5,0,0.5,1], datum.value) < 0", "value": 0}, "value": 1}, "gridWidth": {"condition": {"test": "indexof([-1,-0.5,0,0.5,1], datum.value) < 0", "value": 0.3}, "value": 0.6}, "labelFontSize": 4.8, "titleFontSize": 6.6, "titlePadding": 1}},
             "y": {"field": "y", "type": "quantitative", "scale": {"domain": [-0.86, 18.7], "nice": false, "zero": false},
                   "axis": {"title": "-log10(Pvalue)", "values": [0,2.5,5,7.5,10,12.5,15,17.5], "labelExpr": "indexof([0,5,10,15], datum.value) >= 0 ? datum.label : ''", "tickOpacity": {"condition": {"test": "indexof([0,5,10,15], datum.value) < 0", "value": 0}, "value": 1}, "gridWidth": {"condition": {"test": "indexof([0,5,10,15], datum.value) < 0", "value": 0.3}, "value": 0.6}, "labelFontSize": 4.8, "titleFontSize": 6.2, "titlePadding": 7}},
             "color": {"field": "cat", "type": "nominal", "scale": {"domain": ["Metabolism", "Organismal Systems", "Environmental Information Processing", "Human Diseases", "Genetic Information Processing", "Cellular Processes"], "range": ["#5A9BEA", "#F3AE4A", "#8BC02A", "#D42A5A", "#F5E86A", "#A45CF0"]},
                       "legend": {"title": "KEGG A Class", "orient": "none", "legendX": -20, "legendY": 184, "direction": "horizontal", "columns": 3, "titleOrient": "left", "symbolType": "circle", "symbolSize": 5, "symbolOpacity": 1, "symbolStrokeWidth": 0, "labelFontSize": 3.3, "titleFontSize": 5.5, "columnPadding": 6, "rowPadding": 1, "titlePadding": 6, "labelOffset": 3}},
             "size": {"field": "n", "type": "quantitative", "scale": {"domain": [1, 45], "range": [50, 530], "zero": false}, "legend": null}
            }},
           {"data": {"values": [{"cutoff": 1.3}]}, "mark": {"type": "rule", "color": "#F5A742", "strokeWidth": 1}, "encoding": {"y": {"field": "cutoff", "type": "quantitative"}}}
          ]
         },
         {"width": 36, "height": 1, "data": {"name": "none"}, "mark": {"type": "point", "opacity": 0}, "encoding": {}},
         {
          "width": 127, "height": 173,
          "title": {"text": "Pathway Top 20", "fontSize": 7, "offset": 12, "anchor": "middle"},
          "encoding": {"y": {"field": "row", "type": "ordinal", "axis": null, "scale": {"domain": [0,1,2,3,4,5,6,7,8,9,10,11,12,13,14,15,16,17,18,19,20], "paddingInner": 0, "paddingOuter": 0.25, "align": 1}}},
          "layer": [
           {"data": {"name": "hdr"}, "mark": {"type": "rect", "fill": "#CCCCCC", "stroke": "white", "strokeWidth": 0.7}, "encoding": {"x": {"datum": 0, "type": "quantitative", "scale": {"domain": [0, 1], "nice": false}, "axis": null}, "x2": {"datum": 0.175}}},
           {"data": {"name": "hdr"}, "mark": {"type": "rect", "fill": "#CCCCCC", "stroke": "white", "strokeWidth": 0.7}, "encoding": {"x": {"datum": 0.175, "type": "quantitative", "axis": null}, "x2": {"datum": 1}}},
           {"data": {"name": "E_t"}, "mark": {"type": "rect", "stroke": "white", "strokeWidth": 0.7}, "encoding": {"x": {"datum": 0, "type": "quantitative", "axis": null}, "x2": {"datum": 0.175}, "fill": {"field": "cat", "type": "nominal", "scale": {"domain": ["Metabolism", "Human Diseases", "Organismal Systems", "Environmental Information Processing", "Genetic Information Processing", "Cellular Processes"], "range": ["#A9C8F2", "#E68FA6", "#F5CB8C", "#B5D36B", "#FFF4B5", "#C9A2F5"]}, "legend": null}}},
           {"data": {"name": "E_t"}, "mark": {"type": "rect", "stroke": "white", "strokeWidth": 0.7}, "encoding": {"x": {"datum": 0.175, "type": "quantitative", "axis": null}, "x2": {"datum": 1}, "fill": {"field": "cat", "type": "nominal", "legend": null}}},
           {"data": {"name": "hdr"}, "mark": {"type": "text", "fontSize": 3.8, "fontWeight": "bold", "color": "#111111"}, "encoding": {"x": {"datum": 0.0875, "type": "quantitative", "axis": null}, "text": {"field": "ID"}}},
           {"data": {"name": "hdr"}, "mark": {"type": "text", "fontSize": 3.8, "fontWeight": "bold", "color": "#111111"}, "encoding": {"x": {"datum": 0.5875, "type": "quantitative", "axis": null}, "text": {"field": "Description"}}},
           {"data": {"name": "E_t"}, "mark": {"type": "text", "fontSize": 3.8, "color": "#111111"}, "encoding": {"x": {"datum": 0.0875, "type": "quantitative", "axis": null}, "text": {"field": "ID"}}},
           {"data": {"name": "E_t"}, "mark": {"type": "text", "fontSize": 3.8, "color": "#111111", "lineBreak": "\n"}, "encoding": {"x": {"datum": 0.5875, "type": "quantitative", "axis": null}, "text": {"field": "Description"}}}
          ]
         }
        ],
        "resolve": {"scale": {"color": "independent", "fill": "independent", "size": "independent"}}
       }
      ],
      "spacing": 39,
      "resolve": {"scale": {"color": "independent", "fill": "independent", "size": "independent"}}
     },
     {
      "vconcat": [
       {
        "title": {"text": "G", "anchor": "start", "fontSize": 13, "dx": 10, "offset": 2},
        "bounds": "flush", "spacing": 0,
        "hconcat": [
         {"width": 2, "height": 1, "data": {"name": "none"}, "mark": {"type": "point", "opacity": 0}, "encoding": {}},
         {
          "width": 191, "height": 180,
          "view": {"stroke": "#8A8A8A", "strokeWidth": 0.8},
          "layer": [
           {"data": {"name": "G_b"}, "mark": {"type": "circle", "opacity": 0.6},
            "encoding": {
             "x": {"field": "x", "type": "quantitative", "scale": {"domain": [-1.1, 1.1], "nice": false, "zero": false},
                   "axis": {"title": "up-down normalization", "values": [-1,-0.75,-0.5,-0.25,0,0.25,0.5,0.75,1], "format": ".1f", "labelExpr": "indexof([-1,-0.5,0,0.5,1], datum.value) >= 0 ? datum.label : ''", "tickOpacity": {"condition": {"test": "indexof([-1,-0.5,0,0.5,1], datum.value) < 0", "value": 0}, "value": 1}, "gridWidth": {"condition": {"test": "indexof([-1,-0.5,0,0.5,1], datum.value) < 0", "value": 0.3}, "value": 0.6}, "labelFontSize": 4.8, "titleFontSize": 6.6, "titlePadding": 1}},
             "y": {"field": "y", "type": "quantitative", "scale": {"domain": [-0.2, 4.44], "nice": false, "zero": false},
                   "axis": {"title": "-log10(Pvalue)", "values": [0,0.5,1,1.5,2,2.5,3,3.5,4], "labelExpr": "indexof([0,1,2,3,4], datum.value) >= 0 ? datum.label : ''", "tickOpacity": {"condition": {"test": "indexof([0,1,2,3,4], datum.value) < 0", "value": 0}, "value": 1}, "gridWidth": {"condition": {"test": "indexof([0,1,2,3,4], datum.value) < 0", "value": 0.3}, "value": 0.6}, "labelFontSize": 4.8, "titleFontSize": 6.2, "titlePadding": 2}},
             "color": {"field": "cat", "type": "nominal", "scale": {"domain": ["Cellular Component", "Biological Process", "Molecular Function"], "range": ["#8BC02A", "#5A9BEA", "#F3AE4A"]},
                       "legend": {"title": "Categroy", "orient": "none", "legendX": -10, "legendY": 201, "direction": "horizontal", "titleOrient": "left", "symbolType": "circle", "symbolSize": 8, "symbolOpacity": 1, "symbolStrokeWidth": 0, "labelFontSize": 4.8, "titleFontSize": 5.2, "columnPadding": 6, "titlePadding": 4, "labelOffset": 3}},
             "size": {"field": "n", "type": "quantitative", "scale": {"domain": [1, 40], "range": [12, 530], "zero": false}, "legend": null}
            }},
           {"data": {"values": [{"cutoff": 1.3}]}, "mark": {"type": "rule", "color": "#F5A742", "strokeWidth": 1}, "encoding": {"y": {"field": "cutoff", "type": "quantitative"}}}
          ]
         },
         {"width": 33, "height": 1, "data": {"name": "none"}, "mark": {"type": "point", "opacity": 0}, "encoding": {}},
         {
          "width": 149, "height": 197,
          "title": {"text": "GO term Top 20", "fontSize": 7, "offset": 2, "anchor": "middle"},
          "encoding": {"y": {"field": "row", "type": "ordinal", "axis": null, "scale": {"domain": [0,1,2,3,4,5,6,7,8,9,10,11,12,13,14,15,16,17,18,19,20], "paddingInner": 0, "paddingOuter": 0.68, "align": 1}}},
          "layer": [
           {"data": {"name": "hdr"}, "mark": {"type": "rect", "fill": "#CCCCCC", "stroke": "white", "strokeWidth": 0.7}, "encoding": {"x": {"datum": 0, "type": "quantitative", "scale": {"domain": [0, 1], "nice": false}, "axis": null}, "x2": {"datum": 0.19}}},
           {"data": {"name": "hdr"}, "mark": {"type": "rect", "fill": "#CCCCCC", "stroke": "white", "strokeWidth": 0.7}, "encoding": {"x": {"datum": 0.19, "type": "quantitative", "axis": null}, "x2": {"datum": 1}}},
           {"data": {"name": "G_t"}, "mark": {"type": "rect", "stroke": "white", "strokeWidth": 0.7}, "encoding": {"x": {"datum": 0, "type": "quantitative", "axis": null}, "x2": {"datum": 0.19}, "fill": {"field": "cat", "type": "nominal", "scale": {"domain": ["Cellular Component", "Molecular Function", "Biological Process"], "range": ["#B5D36B", "#F5CB8C", "#A9C8F2"]}, "legend": null}}},
           {"data": {"name": "G_t"}, "mark": {"type": "rect", "stroke": "white", "strokeWidth": 0.7}, "encoding": {"x": {"datum": 0.19, "type": "quantitative", "axis": null}, "x2": {"datum": 1}, "fill": {"field": "cat", "type": "nominal", "legend": null}}},
           {"data": {"name": "hdr"}, "mark": {"type": "text", "fontSize": 3.7, "fontWeight": "bold", "color": "#111111"}, "encoding": {"x": {"datum": 0.095, "type": "quantitative", "axis": null}, "text": {"field": "ID"}}},
           {"data": {"name": "hdr"}, "mark": {"type": "text", "fontSize": 3.7, "fontWeight": "bold", "color": "#111111"}, "encoding": {"x": {"datum": 0.595, "type": "quantitative", "axis": null}, "text": {"field": "Description"}}},
           {"data": {"name": "G_t"}, "mark": {"type": "text", "fontSize": 3.7, "color": "#111111"}, "encoding": {"x": {"datum": 0.095, "type": "quantitative", "axis": null}, "text": {"field": "ID"}}},
           {"data": {"name": "G_t"}, "mark": {"type": "text", "fontSize": 3.7, "color": "#111111", "lineBreak": "\n"}, "encoding": {"x": {"datum": 0.595, "type": "quantitative", "axis": null}, "text": {"field": "Description"}}}
          ]
         }
        ],
        "resolve": {"scale": {"color": "independent", "fill": "independent", "size": "independent"}}
       },
       {
        "title": {"text": "I", "anchor": "start", "fontSize": 13, "dx": 9, "dy": 6, "offset": 0},
        "bounds": "flush", "spacing": 0,
        "hconcat": [
         {"width": 5, "height": 1, "data": {"name": "none"}, "mark": {"type": "point", "opacity": 0}, "encoding": {}},
         {
          "width": 192, "height": 161,
          "view": {"stroke": "#8A8A8A", "strokeWidth": 0.8},
          "layer": [
           {"data": {"name": "I_b"}, "mark": {"type": "circle", "opacity": 0.6},
            "encoding": {
             "x": {"field": "x", "type": "quantitative", "scale": {"domain": [-1.1, 1.09], "nice": false, "zero": false},
                   "axis": {"title": "up-down normalization", "values": [-1,-0.75,-0.5,-0.25,0,0.25,0.5,0.75,1], "format": ".1f", "labelExpr": "indexof([-1,-0.5,0,0.5,1], datum.value) >= 0 ? datum.label : ''", "tickOpacity": {"condition": {"test": "indexof([-1,-0.5,0,0.5,1], datum.value) < 0", "value": 0}, "value": 1}, "gridWidth": {"condition": {"test": "indexof([-1,-0.5,0,0.5,1], datum.value) < 0", "value": 0.3}, "value": 0.6}, "labelFontSize": 4.8, "titleFontSize": 6.6, "titlePadding": 1}},
             "y": {"field": "y", "type": "quantitative", "scale": {"domain": [-0.11, 3.02], "nice": false, "zero": false},
                   "axis": {"title": "-log10(Pvalue)", "values": [0,0.5,1,1.5,2,2.5,3], "labelExpr": "indexof([0,1,2,3], datum.value) >= 0 ? datum.label : ''", "tickOpacity": {"condition": {"test": "indexof([0,1,2,3], datum.value) < 0", "value": 0}, "value": 1}, "gridWidth": {"condition": {"test": "indexof([0,1,2,3], datum.value) < 0", "value": 0.3}, "value": 0.6}, "labelFontSize": 4.8, "titleFontSize": 6.2, "titlePadding": 3}},
             "color": {"field": "cat", "type": "nominal", "scale": {"domain": ["Environmental Information Processing", "Organismal Systems", "Cellular Processes", "Metabolism", "Genetic Information Processing", "Human Diseases"], "range": ["#8BC02A", "#F3AE4A", "#A45CF0", "#5A9BEA", "#F5E86A", "#D42A5A"]},
                       "legend": {"title": "KEGG A Class", "orient": "none", "legendX": -20, "legendY": 181, "direction": "horizontal", "columns": 3, "titleOrient": "left", "symbolType": "circle", "symbolSize": 5, "symbolOpacity": 1, "symbolStrokeWidth": 0, "labelFontSize": 3.3, "titleFontSize": 5.5, "columnPadding": 6, "rowPadding": 1, "titlePadding": 6, "labelOffset": 3}},
             "size": {"field": "n", "type": "quantitative", "scale": {"domain": [1, 45], "range": [50, 530], "zero": false}, "legend": null}
            }},
           {"data": {"values": [{"cutoff": 1.3}]}, "mark": {"type": "rule", "color": "#F5A742", "strokeWidth": 1}, "encoding": {"y": {"field": "cutoff", "type": "quantitative"}}}
          ]
         },
         {"width": 41, "height": 1, "data": {"name": "none"}, "mark": {"type": "point", "opacity": 0}, "encoding": {}},
         {
          "width": 135, "height": 170,
          "title": {"text": "Pathway Top 20", "fontSize": 7, "offset": 5, "anchor": "middle"},
          "encoding": {"y": {"field": "row", "type": "ordinal", "axis": null, "scale": {"domain": [0,1,2,3,4,5,6,7,8,9,10,11,12,13,14,15,16,17,18,19,20], "paddingInner": 0, "paddingOuter": 0}}},
          "layer": [
           {"data": {"name": "hdr"}, "mark": {"type": "rect", "fill": "#CCCCCC", "stroke": "white", "strokeWidth": 0.7}, "encoding": {"x": {"datum": 0, "type": "quantitative", "scale": {"domain": [0, 1], "nice": false}, "axis": null}, "x2": {"datum": 0.18}}},
           {"data": {"name": "hdr"}, "mark": {"type": "rect", "fill": "#CCCCCC", "stroke": "white", "strokeWidth": 0.7}, "encoding": {"x": {"datum": 0.18, "type": "quantitative", "axis": null}, "x2": {"datum": 1}}},
           {"data": {"name": "I_t"}, "mark": {"type": "rect", "stroke": "white", "strokeWidth": 0.7}, "encoding": {"x": {"datum": 0, "type": "quantitative", "axis": null}, "x2": {"datum": 0.18}, "fill": {"field": "cat", "type": "nominal", "scale": {"domain": ["Metabolism", "Human Diseases", "Organismal Systems", "Environmental Information Processing", "Genetic Information Processing", "Cellular Processes"], "range": ["#A9C8F2", "#E68FA6", "#F5CB8C", "#B5D36B", "#FFF4B5", "#C9A2F5"]}, "legend": null}}},
           {"data": {"name": "I_t"}, "mark": {"type": "rect", "stroke": "white", "strokeWidth": 0.7}, "encoding": {"x": {"datum": 0.18, "type": "quantitative", "axis": null}, "x2": {"datum": 1}, "fill": {"field": "cat", "type": "nominal", "legend": null}}},
           {"data": {"name": "hdr"}, "mark": {"type": "text", "fontSize": 3.8, "fontWeight": "bold", "color": "#111111"}, "encoding": {"x": {"datum": 0.09, "type": "quantitative", "axis": null}, "text": {"field": "ID"}}},
           {"data": {"name": "hdr"}, "mark": {"type": "text", "fontSize": 3.8, "fontWeight": "bold", "color": "#111111"}, "encoding": {"x": {"datum": 0.59, "type": "quantitative", "axis": null}, "text": {"field": "Description"}}},
           {"data": {"name": "I_t"}, "mark": {"type": "text", "fontSize": 3.8, "color": "#111111"}, "encoding": {"x": {"datum": 0.09, "type": "quantitative", "axis": null}, "text": {"field": "ID"}}},
           {"data": {"name": "I_t"}, "mark": {"type": "text", "fontSize": 3.8, "color": "#111111", "lineBreak": "\n"}, "encoding": {"x": {"datum": 0.59, "type": "quantitative", "axis": null}, "text": {"field": "Description"}}}
          ]
         }
        ],
        "resolve": {"scale": {"color": "independent", "fill": "independent", "size": "independent"}}
       }
      ],
      "spacing": 21,
      "resolve": {"scale": {"color": "independent", "fill": "independent", "size": "independent"}}
     }
    ],
    "spacing": 34,
    "resolve": {"scale": {"color": "independent", "fill": "independent", "size": "independent"}}
   }
  ],
  "spacing": 0,
  "resolve": {"scale": {"color": "independent", "fill": "independent", "size": "independent"}}
 },
 {
  "vconcat": [
   {"width": 1, "height": 1, "data": {"name": "none"}, "mark": {"type": "point", "opacity": 0}, "encoding": {}},
   {
    "vconcat": [
     {
      "vconcat": [
       {
        "title": {"text": "B", "anchor": "start", "fontSize": 12.5, "dx": 17, "dy": 11, "offset": 0},
        "bounds": "flush", "spacing": 0,
        "hconcat": [
         {"width": 3, "height": 1, "data": {"name": "none"}, "mark": {"type": "point", "opacity": 0}, "encoding": {}},
         {
          "width": 123, "height": 204,
          "title": {"text": "Top 25 of GO Enrichment", "fontSize": 7.5, "fontWeight": "bold", "anchor": "middle", "frame": "group", "offset": 4},
          "view": {"stroke": "#222222", "strokeWidth": 1},
          "data": {"name": "B"},
          "mark": {"type": "circle", "opacity": 1},
          "encoding": {
           "y": {"field": "term", "type": "nominal", "sort": {"field": "rank", "op": "min"}, "scale": {"type": "point", "padding": 0.6},
                 "axis": {"title": "GO term", "labelExpr": "split(datum.label, '\\n')", "labelFontSize": 6.4, "titleFontSize": 3.8, "titlePadding": 23, "grid": true, "gridWidth": 0.6}},
           "x": {"field": "rf", "type": "quantitative", "scale": {"domain": [-0.07, 0.766], "nice": false, "zero": false},
                 "axis": {"title": "Rich Factor", "values": [0,0.1,0.2,0.3,0.4,0.5,0.6,0.7], "format": ".1f", "labelExpr": "indexof([0,0.2,0.4,0.6], datum.value) >= 0 ? datum.label : ''", "tickOpacity": {"condition": {"test": "indexof([0,0.2,0.4,0.6], datum.value) < 0", "value": 0}, "value": 1}, "gridWidth": {"condition": {"test": "indexof([0,0.2,0.4,0.6], datum.value) < 0", "value": 0.3}, "value": 0.6}, "labelFontSize": 5.5, "titleFontSize": 5.3, "titlePadding": 3}},
           "size": {"field": "n", "type": "quantitative", "scale": {"domain": [2, 22], "range": [3, 38], "zero": false},
                    "legend": {"title": "GeneNumber", "orient": "none", "legendX": 131, "legendY": 61, "values": [5, 10, 15, 20], "symbolType": "circle", "symbolFillColor": "#000000", "symbolStrokeColor": "#000000", "symbolStrokeWidth": 0, "titleFontSize": 5.5, "labelFontSize": 5, "rowPadding": 1.5, "titlePadding": 3, "labelOffset": 4}},
           "color": {"field": "p", "type": "quantitative", "scale": {"domain": [3.7e-7, 1.06e-3], "range": ["#FF0000", "#0000FF"], "interpolate": "lab"},
                     "legend": {"title": "pvalue", "orient": "none", "legendX": 131, "legendY": 102, "values": [0.00025, 0.0005, 0.00075, 0.001], "format": ".5f", "gradientLength": 34, "gradientThickness": 10, "gradientStrokeWidth": 0, "titleFontSize": 5.5, "labelFontSize": 5, "titlePadding": 3, "labelOffset": 3}}
          }
         }
        ],
        "resolve": {"scale": {"color": "independent", "size": "independent"}}
       },
       {
        "title": {"text": "D", "anchor": "start", "fontSize": 12.5, "dx": -17, "dy": 12.5, "offset": 0},
        "bounds": "flush", "spacing": 0,
        "hconcat": [
         {"width": 1, "height": 1, "data": {"name": "none"}, "mark": {"type": "point", "opacity": 0}, "encoding": {}},
         {
          "width": 125, "height": 216,
          "title": {"text": "Top 25 of GO Enrichment", "fontSize": 7.1, "fontWeight": "bold", "anchor": "middle", "frame": "group", "offset": 4},
          "view": {"stroke": "#222222", "strokeWidth": 1},
          "data": {"name": "D"},
          "mark": {"type": "circle", "opacity": 1},
          "encoding": {
           "y": {"field": "term", "type": "nominal", "sort": {"field": "rank", "op": "min"}, "scale": {"type": "point", "padding": 0.6},
                 "axis": {"title": "GOterm", "labelExpr": "split(datum.label, '\\n')", "labelFontSize": 6.1, "titleFontSize": 3.8, "titlePadding": 18, "grid": true, "gridWidth": 0.6}},
           "x": {"field": "rf", "type": "quantitative", "scale": {"domain": [0, 0.294], "nice": false, "zero": false},
                 "axis": {"title": "Rich Factor", "values": [0,0.05,0.1,0.15,0.2,0.25], "format": ".1f", "labelExpr": "indexof([0,0.1,0.2], datum.value) >= 0 ? datum.label : ''", "tickOpacity": {"condition": {"test": "indexof([0,0.1,0.2], datum.value) < 0", "value": 0}, "value": 1}, "gridWidth": {"condition": {"test": "indexof([0,0.1,0.2], datum.value) < 0", "value": 0.3}, "value": 0.6}, "labelFontSize": 5, "titleFontSize": 5.3, "titlePadding": 3}},
           "size": {"field": "n", "type": "quantitative", "scale": {"domain": [15, 28], "range": [4, 68], "zero": false},
                    "legend": {"title": "GeneNumber", "orient": "none", "legendX": 135, "legendY": 67, "values": [18, 21, 24, 27], "symbolType": "circle", "symbolFillColor": "#000000", "symbolStrokeColor": "#000000", "symbolStrokeWidth": 0, "titleFontSize": 5.5, "labelFontSize": 5, "rowPadding": 1.5, "titlePadding": 3, "labelOffset": 4}},
           "color": {"field": "p", "type": "quantitative", "scale": {"domain": [4.3e-22, 1.5e-16], "range": ["#FF0000", "#0000FF"], "interpolate": "lab"},
                     "legend": {"title": "pvalue", "orient": "none", "legendX": 135, "legendY": 108, "values": [4.3e-22, 3.75e-17, 7.5e-17, 1.125e-16, 1.5e-16], "format": ".6e", "gradientLength": 26, "gradientThickness": 10, "gradientStrokeWidth": 0, "titleFontSize": 5.5, "labelFontSize": 5, "titlePadding": 3, "labelOffset": 3}}
          }
         }
        ],
        "resolve": {"scale": {"color": "independent", "size": "independent"}}
       },
       {
        "title": {"text": "F", "anchor": "start", "fontSize": 12.5, "dx": -14, "offset": 0},
        "bounds": "flush", "spacing": 0,
        "hconcat": [
         {"width": 1, "height": 1, "data": {"name": "none"}, "mark": {"type": "point", "opacity": 0}, "encoding": {}},
         {
          "width": 121, "height": 183,
          "title": {"text": "Top 25 of KEGG Enrichment", "fontSize": 6.7, "fontWeight": "bold", "anchor": "middle", "frame": "group", "offset": 5},
          "view": {"stroke": "#222222", "strokeWidth": 1},
          "data": {"name": "F"},
          "mark": {"type": "circle", "opacity": 1},
          "encoding": {
           "y": {"field": "term", "type": "nominal", "sort": {"field": "rank", "op": "min"}, "scale": {"type": "point", "padding": 0.6},
                 "axis": {"title": "Pathway", "labelExpr": "split(datum.label, '\\n')", "labelFontSize": 5.3, "titleFontSize": 4, "titlePadding": 30, "grid": true, "gridWidth": 0.6}},
           "x": {"field": "rf", "type": "quantitative", "scale": {"domain": [-0.03, 0.233], "nice": false, "zero": false},
                 "axis": {"title": "Rich Factor", "values": [-0.025,0,0.025,0.05,0.075,0.1,0.125,0.15,0.175,0.2,0.225], "format": ".2f", "labelExpr": "indexof([0,0.05,0.1,0.15,0.2], datum.value) >= 0 ? datum.label : ''", "tickOpacity": {"condition": {"test": "indexof([0,0.05,0.1,0.15,0.2], datum.value) < 0", "value": 0}, "value": 1}, "gridWidth": {"condition": {"test": "indexof([0,0.05,0.1,0.15,0.2], datum.value) < 0", "value": 0.3}, "value": 0.6}, "labelFontSize": 5.1, "titleFontSize": 5.3, "titlePadding": 3}},
           "size": {"field": "n", "type": "quantitative", "scale": {"domain": [3, 46], "range": [4, 52], "zero": false},
                    "legend": {"title": "GeneNumber", "orient": "none", "legendX": 131, "legendY": 53, "values": [10, 20, 30, 40], "symbolType": "circle", "symbolFillColor": "#000000", "symbolStrokeColor": "#000000", "symbolStrokeWidth": 0, "titleFontSize": 5.5, "labelFontSize": 5, "rowPadding": 1.5, "titlePadding": 3, "labelOffset": 4}},
           "color": {"field": "p", "type": "quantitative", "scale": {"domain": [1e-17, 0.046], "range": ["#FF0000", "#0000FF"], "interpolate": "lab"},
                     "legend": {"title": "pvalue", "orient": "none", "legendX": 131, "legendY": 93, "values": [0.01, 0.02, 0.03, 0.04], "format": ".2f", "gradientLength": 32, "gradientThickness": 10, "gradientStrokeWidth": 0, "titleFontSize": 5.5, "labelFontSize": 5, "titlePadding": 3, "labelOffset": 3}}
          }
         }
        ],
        "resolve": {"scale": {"color": "independent", "size": "independent"}}
       }
      ],
      "spacing": 0,
      "resolve": {"scale": {"color": "independent", "size": "independent"}}
     },
     {
      "vconcat": [
       {
        "title": {"text": "H", "anchor": "start", "fontSize": 12.5, "dx": -8, "offset": 21},
        "bounds": "flush", "spacing": 0,
        "hconcat": [
         {"width": 42, "height": 1, "data": {"name": "none"}, "mark": {"type": "point", "opacity": 0}, "encoding": {}},
         {
          "width": 97, "height": 176,
          "title": {"text": "Top 25 of GO Enrichment", "fontSize": 6.6, "fontWeight": "bold", "anchor": "middle", "frame": "group", "offset": 2},
          "view": {"stroke": "#222222", "strokeWidth": 1},
          "data": {"name": "H"},
          "mark": {"type": "circle", "opacity": 1},
          "encoding": {
           "y": {"field": "term", "type": "nominal", "sort": {"field": "rank", "op": "min"}, "scale": {"type": "point", "padding": 0.6},
                 "axis": {"title": "GO term", "labelExpr": "split(datum.label, '\\n')", "labelFontSize": 5.8, "titleFontSize": 3.8, "titlePadding": 1, "grid": true, "gridWidth": 0.6}},
           "x": {"field": "rf", "type": "quantitative", "scale": {"domain": [-0.08, 1.1], "nice": false, "zero": false},
                 "axis": {"title": "Rich Factor", "values": [0,0.125,0.25,0.375,0.5,0.625,0.75,0.875,1], "format": ".2f", "labelExpr": "indexof([0,0.25,0.5,0.75,1], datum.value) >= 0 ? datum.label : ''", "tickOpacity": {"condition": {"test": "indexof([0,0.25,0.5,0.75,1], datum.value) < 0", "value": 0}, "value": 1}, "gridWidth": {"condition": {"test": "indexof([0,0.25,0.5,0.75,1], datum.value) < 0", "value": 0.3}, "value": 0.6}, "labelFontSize": 4.5, "titleFontSize": 5, "titlePadding": 3}},
           "size": {"field": "n", "type": "quantitative", "scale": {"domain": [1, 2], "range": [2.5, 28], "zero": false},
                    "legend": {"title": "GeneNumber", "orient": "none", "legendX": 102, "legendY": 54, "values": [1, 1.25, 1.5, 1.75, 2], "format": ".2f", "symbolType": "circle", "symbolFillColor": "#000000", "symbolStrokeColor": "#000000", "symbolStrokeWidth": 0, "titleFontSize": 4.8, "labelFontSize": 4.5, "rowPadding": 1, "titlePadding": 3, "labelOffset": 4}},
           "color": {"field": "p", "type": "quantitative", "scale": {"domain": [0.0015, 0.0108], "range": ["#FF0000", "#0000FF"], "interpolate": "lab"},
                     "legend": {"title": "pvalue", "orient": "none", "legendX": 102, "legendY": 90, "values": [0.002, 0.004, 0.006, 0.008, 0.01], "format": ".3f", "gradientLength": 26, "gradientThickness": 10, "gradientStrokeWidth": 0, "titleFontSize": 4.8, "labelFontSize": 4.5, "titlePadding": 3, "labelOffset": 3}}
          }
         }
        ],
        "resolve": {"scale": {"color": "independent", "size": "independent"}}
       },
       {
        "title": {"text": "J", "anchor": "start", "fontSize": 12.5, "dx": -63, "dy": 12, "offset": 0},
        "bounds": "flush", "spacing": 0,
        "hconcat": [
         {"width": 28, "height": 1, "data": {"name": "none"}, "mark": {"type": "point", "opacity": 0}, "encoding": {}},
         {
          "width": 111, "height": 179,
          "title": {"text": "Top 25 of KEGG Enrichment", "fontSize": 5.9, "fontWeight": "bold", "anchor": "middle", "frame": "group", "offset": 3},
          "view": {"stroke": "#222222", "strokeWidth": 1},
          "data": {"name": "J"},
          "mark": {"type": "circle", "opacity": 1},
          "encoding": {
           "y": {"field": "term", "type": "nominal", "sort": {"field": "rank", "op": "min"}, "scale": {"type": "point", "padding": 0.6},
                 "axis": {"title": "Pathway", "labelExpr": "split(datum.label, '\\n')", "labelFontSize": 5.0, "titleFontSize": 4, "titlePadding": 21, "grid": true, "gridWidth": 0.6}},
           "x": {"field": "rf", "type": "quantitative", "scale": {"domain": [-0.055, 0.13], "nice": false, "zero": false},
                 "axis": {"title": "Rich Factor", "values": [-0.05,-0.025,0,0.025,0.05,0.075,0.1,0.125], "format": ".2f", "labelExpr": "indexof([-0.05,0,0.05,0.1], datum.value) >= 0 ? datum.label : ''", "tickOpacity": {"condition": {"test": "indexof([-0.05,0,0.05,0.1], datum.value) < 0", "value": 0}, "value": 1}, "gridWidth": {"condition": {"test": "indexof([-0.05,0,0.05,0.1], datum.value) < 0", "value": 0.3}, "value": 0.6}, "labelFontSize": 4.5, "titleFontSize": 4.6, "titlePadding": 3}},
           "size": {"field": "n", "type": "quantitative", "scale": {"domain": [1, 2], "range": [4, 50], "zero": false},
                    "legend": {"title": "GeneNumber", "orient": "none", "legendX": 118, "legendY": 48, "values": [1, 1.25, 1.5, 1.75, 2], "format": ".2f", "symbolType": "circle", "symbolFillColor": "#000000", "symbolStrokeColor": "#000000", "symbolStrokeWidth": 0, "titleFontSize": 4.8, "labelFontSize": 4.5, "rowPadding": 1, "titlePadding": 3, "labelOffset": 4}},
           "color": {"field": "p", "type": "quantitative", "scale": {"domain": [0.004, 0.22], "range": ["#FF0000", "#0000FF"], "interpolate": "lab"},
                     "legend": {"title": "pvalue", "orient": "none", "legendX": 118, "legendY": 93, "values": [0.05, 0.1, 0.15, 0.2], "format": ".2f", "gradientLength": 32, "gradientThickness": 10, "gradientStrokeWidth": 0, "titleFontSize": 4.8, "labelFontSize": 4.5, "titlePadding": 3, "labelOffset": 3}}
          }
         }
        ],
        "resolve": {"scale": {"color": "independent", "size": "independent"}}
       }
      ],
      "spacing": 15.5,
      "resolve": {"scale": {"color": "independent", "size": "independent"}}
     }
    ],
    "spacing": 16,
    "resolve": {"scale": {"color": "independent", "size": "independent"}}
   }
  ],
  "spacing": 0,
  "resolve": {"scale": {"color": "independent", "size": "independent"}}
 }
],
"spacing": -3,
"resolve": {"scale": {"color": "independent", "fill": "independent", "size": "independent"}}
}
